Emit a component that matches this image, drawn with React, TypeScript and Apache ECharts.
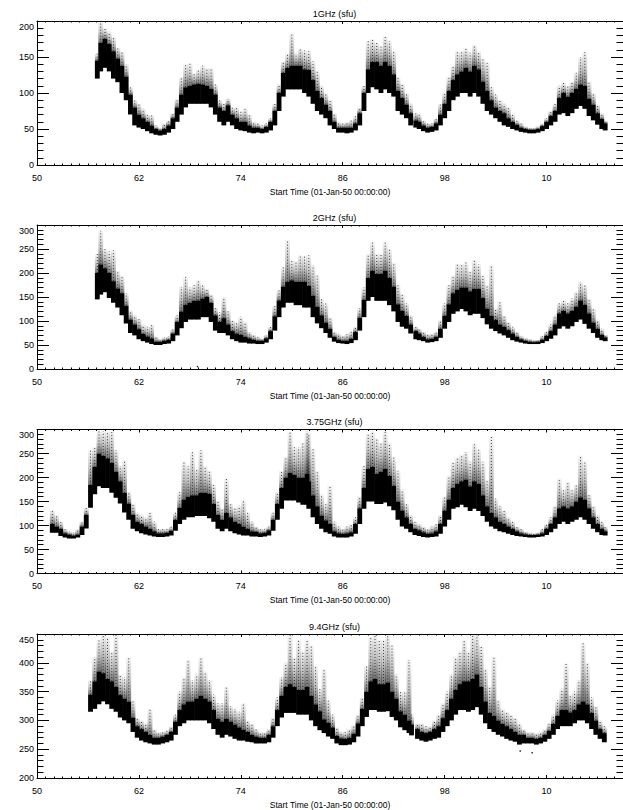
import React, { useEffect, useRef } from 'react';
import * as echarts from 'echarts';

const TITLES = ['1GHz (sfu)', '2GHz (sfu)', '3.75GHz (sfu)', '9.4GHz (sfu)'];
const X_TITLE = 'Start Time (01-Jan-50 00:00:00)';
const X_TICK_LABELS = ['50', '62', '74', '86', '98', '10'];
const BASE_YEAR = 1950;
const END_YEAR = 2019;
const Y_MIN = [0, 0, 0, 200];
const Y_MAX = [200, 300, 300, 450];

// rows: [year, dense-band low, dense-band high, sparse spike top]
const F1GHZ: number[][] = [
  [1957.1, 120, 145, 155], [1957.5, 130, 170, 198], [1958, 135, 175, 190], [1958.5, 130, 168, 185],
  [1959, 120, 158, 178], [1959.5, 115, 148, 163], [1960, 100, 138, 158], [1960.5, 90, 123, 140],
  [1961, 70, 98, 108], [1961.5, 55, 80, 90], [1962, 52, 70, 85], [1962.5, 50, 65, 78],
  [1963, 47, 60, 70], [1963.5, 44, 55, 69], [1964, 42, 50, 55], [1964.5, 41, 48, 52],
  [1965, 42, 50, 58], [1965.5, 45, 55, 62], [1966, 50, 65, 72], [1966.5, 60, 80, 92],
  [1967, 70, 98, 122], [1967.5, 80, 108, 140], [1968, 85, 110, 141], [1968.5, 85, 112, 128],
  [1969, 85, 113, 132], [1969.5, 85, 112, 138], [1970, 85, 110, 135], [1970.5, 80, 106, 135],
  [1971, 70, 98, 112], [1971.5, 60, 80, 90], [1972, 55, 75, 86], [1972.5, 60, 83, 92],
  [1973, 55, 70, 80], [1973.5, 50, 65, 80], [1974, 48, 60, 74], [1974.5, 47, 60, 78],
  [1975, 45, 55, 70], [1975.5, 44, 52, 60], [1976, 45, 52, 58], [1976.5, 44, 50, 55],
  [1977, 45, 53, 58], [1977.5, 48, 60, 65], [1978, 55, 75, 85], [1978.5, 75, 100, 112],
  [1979, 95, 128, 144], [1979.5, 105, 135, 155], [1980, 105, 138, 183], [1980.5, 105, 138, 155],
  [1981, 105, 138, 162], [1981.5, 100, 133, 159], [1982, 95, 132, 158], [1982.5, 85, 118, 144],
  [1983, 75, 103, 130], [1983.5, 70, 93, 110], [1984, 65, 84, 100], [1984.5, 55, 75, 90],
  [1985, 50, 60, 72], [1985.5, 45, 52, 60], [1986, 45, 52, 58], [1986.5, 44, 52, 60],
  [1987, 45, 52, 62], [1987.5, 48, 58, 68], [1988, 55, 72, 80], [1988.5, 75, 100, 110],
  [1989, 100, 133, 172], [1989.5, 108, 143, 175], [1990, 105, 143, 170], [1990.5, 100, 138, 165],
  [1991, 105, 143, 179], [1991.5, 100, 138, 172], [1992, 95, 126, 158], [1992.5, 75, 103, 122],
  [1993, 70, 93, 113], [1993.5, 65, 84, 100], [1994, 55, 72, 85], [1994.6, 52, 62, 72],
  [1995, 50, 60, 70], [1995.5, 47, 55, 62], [1996, 45, 52, 58], [1996.5, 46, 53, 58],
  [1997, 48, 58, 65], [1997.5, 55, 70, 85], [1998, 65, 85, 100], [1998.5, 75, 103, 122],
  [1999, 90, 118, 138], [1999.5, 95, 126, 158], [2000, 100, 130, 158], [2000.5, 100, 135, 162],
  [2001, 95, 130, 156], [2001.5, 100, 138, 167], [2002, 95, 133, 158], [2002.5, 85, 116, 148],
  [2003, 75, 103, 142], [2003.5, 70, 90, 108], [2004, 65, 80, 98], [2004.5, 60, 75, 90],
  [2005, 55, 72, 85], [2005.5, 53, 65, 80], [2006, 50, 60, 70], [2006.5, 48, 56, 62],
  [2007, 46, 52, 58], [2007.5, 45, 50, 54], [2008, 44, 49, 52], [2008.5, 44, 49, 52],
  [2009, 45, 50, 54], [2009.5, 47, 54, 58], [2010, 50, 60, 65], [2010.5, 55, 68, 75],
  [2011, 60, 75, 85], [2011.5, 70, 93, 110], [2012, 72, 100, 114], [2012.5, 68, 95, 110],
  [2013, 72, 100, 116], [2013.5, 78, 106, 128], [2014, 82, 112, 150], [2014.5, 78, 110, 157],
  [2015, 68, 92, 116], [2015.5, 62, 84, 100], [2016, 56, 72, 84], [2016.5, 50, 64, 72],
  [2016.9, 48, 58, 62],
];

const F2GHZ: number[][] = [
  [1957.1, 145, 200, 240], [1957.5, 155, 218, 288], [1958, 160, 210, 250], [1958.5, 148, 200, 245],
  [1959, 138, 183, 247], [1959.5, 128, 168, 205], [1960, 112, 158, 195], [1960.5, 95, 132, 158],
  [1961, 75, 103, 122], [1961.5, 70, 93, 112], [1962, 62, 83, 105], [1962.5, 58, 73, 92],
  [1963, 55, 68, 88], [1963.5, 52, 64, 92], [1964, 50, 57, 68], [1964.5, 50, 57, 63],
  [1965, 52, 59, 66], [1965.5, 53, 61, 68], [1966, 58, 74, 83], [1966.5, 70, 98, 112],
  [1967, 85, 120, 171], [1967.5, 98, 134, 192], [1968, 103, 138, 170], [1968.5, 103, 142, 175],
  [1969, 103, 143, 185], [1969.5, 108, 147, 175], [1970, 108, 150, 168], [1970.5, 98, 138, 155],
  [1971, 80, 112, 128], [1971.5, 75, 98, 118], [1972, 75, 106, 150], [1972.5, 70, 93, 122],
  [1973, 62, 79, 102], [1973.5, 58, 74, 98], [1974, 55, 71, 109], [1974.5, 55, 67, 98],
  [1975, 53, 64, 77], [1975.5, 53, 61, 71], [1976, 52, 59, 67], [1976.5, 52, 59, 64],
  [1977, 55, 64, 71], [1977.5, 62, 79, 88], [1978, 80, 110, 132], [1978.5, 108, 143, 165],
  [1979, 128, 172, 212], [1979.5, 138, 182, 269], [1980, 138, 185, 225], [1980.5, 133, 182, 225],
  [1981, 133, 182, 237], [1981.5, 128, 182, 235], [1982, 128, 173, 237], [1982.5, 108, 153, 216],
  [1983, 95, 130, 195], [1983.5, 85, 112, 147], [1984, 75, 97, 137], [1984.5, 65, 84, 108],
  [1985, 57, 67, 78], [1985.5, 54, 61, 74], [1986, 53, 59, 70], [1986.5, 52, 59, 73],
  [1987, 54, 63, 78], [1987.5, 60, 77, 88], [1988, 80, 107, 127], [1988.5, 108, 144, 170],
  [1989, 142, 190, 240], [1989.5, 150, 205, 264], [1990, 142, 198, 240], [1990.5, 142, 198, 240],
  [1991, 142, 205, 264], [1991.5, 133, 190, 250], [1992, 120, 172, 222], [1992.5, 98, 135, 175],
  [1993, 88, 121, 156], [1993.5, 84, 111, 137], [1994, 74, 93, 112], [1994.6, 62, 79, 88],
  [1995, 60, 74, 83], [1995.5, 58, 67, 78], [1996, 55, 62, 73], [1996.5, 56, 63, 73],
  [1997, 58, 67, 78], [1997.5, 65, 84, 102], [1998, 84, 111, 137], [1998.5, 98, 135, 175],
  [1999, 115, 158, 195], [1999.5, 120, 165, 219], [2000, 125, 170, 218], [2000.5, 120, 170, 222],
  [2001, 112, 162, 205], [2001.5, 115, 167, 228], [2002, 115, 167, 218], [2002.5, 106, 148, 195],
  [2003, 93, 126, 175], [2003.5, 84, 111, 216], [2004, 79, 102, 127], [2004.5, 74, 93, 140],
  [2005, 70, 88, 112], [2005.5, 65, 81, 98], [2006, 60, 74, 88], [2006.5, 57, 67, 78],
  [2007, 55, 62, 69], [2007.5, 53, 59, 65], [2008, 52, 57, 63], [2008.5, 52, 56, 61],
  [2009, 52, 57, 61], [2009.5, 54, 61, 69], [2010, 58, 69, 78], [2010.5, 63, 79, 93],
  [2011, 70, 93, 112], [2011.5, 84, 116, 137], [2012, 89, 121, 142], [2012.5, 84, 116, 137],
  [2013, 89, 121, 147], [2013.5, 98, 130, 161], [2014, 103, 143, 181], [2014.5, 94, 134, 175],
  [2015, 84, 116, 147], [2015.5, 75, 97, 127], [2016, 65, 84, 103], [2016.5, 60, 71, 84],
  [2016.9, 58, 66, 72],
];

const F3_75GHZ: number[][] = [
  [1951.8, 85, 103, 132], [1952.3, 85, 98, 122], [1952.8, 78, 93, 108], [1953.3, 75, 84, 93],
  [1953.8, 73, 81, 88], [1954.3, 73, 79, 86], [1954.8, 75, 81, 93], [1955.3, 80, 98, 108],
  [1955.8, 94, 122, 137], [1956.3, 137, 185, 257], [1956.8, 165, 222, 263], [1957.3, 182, 250, 296],
  [1957.8, 178, 245, 296], [1958.3, 178, 240, 296], [1958.8, 168, 230, 296], [1959.3, 158, 212, 257],
  [1959.8, 146, 192, 224], [1960.3, 127, 168, 236], [1960.8, 112, 146, 170], [1961.3, 93, 122, 146],
  [1961.8, 88, 108, 127], [1962.3, 84, 103, 122], [1962.8, 81, 98, 117], [1963.3, 79, 93, 127],
  [1963.8, 77, 88, 108], [1964.3, 76, 84, 93], [1964.8, 76, 84, 93], [1965.3, 77, 85, 93],
  [1965.8, 79, 89, 98], [1966.3, 89, 112, 127], [1966.8, 103, 137, 170], [1967.3, 112, 154, 233],
  [1967.8, 117, 160, 224], [1968.3, 117, 163, 253], [1968.8, 120, 163, 219], [1969.3, 120, 168, 257],
  [1969.8, 120, 168, 224], [1970.3, 115, 166, 214], [1970.8, 108, 145, 185], [1971.3, 93, 122, 151],
  [1971.8, 88, 112, 137], [1972.3, 93, 126, 198], [1972.8, 88, 117, 146], [1973.3, 84, 108, 137],
  [1973.8, 81, 103, 141], [1974.3, 79, 98, 153], [1974.8, 79, 93, 127], [1975.3, 77, 88, 108],
  [1975.8, 77, 87, 98], [1976.3, 76, 84, 93], [1976.8, 77, 85, 93], [1977.3, 79, 90, 98],
  [1977.8, 89, 112, 127], [1978.3, 112, 145, 170], [1978.8, 135, 178, 214], [1979.3, 152, 200, 243],
  [1979.8, 152, 210, 295], [1980.3, 152, 205, 263], [1980.8, 148, 200, 263], [1981.3, 143, 200, 272],
  [1981.8, 143, 208, 296], [1982, 135, 192, 292], [1982.5, 117, 163, 260], [1983, 103, 140, 214],
  [1983.5, 93, 121, 165], [1984, 86, 111, 146], [1984.5, 83, 103, 184], [1985, 77, 88, 108],
  [1985.5, 75, 84, 98], [1986, 75, 83, 93], [1986.5, 75, 84, 98], [1987, 77, 86, 103],
  [1987.5, 83, 103, 117], [1988, 103, 136, 161], [1988.5, 135, 178, 224], [1989, 150, 218, 292],
  [1989.5, 150, 222, 296], [1990, 145, 208, 282], [1990.5, 145, 212, 272], [1991, 148, 218, 296],
  [1991.5, 140, 203, 272], [1992, 132, 183, 243], [1992.5, 112, 150, 214], [1993, 98, 131, 175],
  [1993.5, 93, 117, 146], [1994, 86, 103, 122], [1994.5, 80, 93, 108], [1995, 78, 90, 103],
  [1995.5, 76, 86, 98], [1996, 75, 83, 93], [1996.5, 76, 84, 98], [1997, 77, 88, 103],
  [1997.5, 83, 103, 122], [1998, 98, 131, 161], [1998.5, 112, 154, 204], [1999, 135, 178, 233],
  [1999.5, 138, 187, 243], [2000, 143, 192, 248], [2000.5, 138, 196, 253], [2001, 130, 182, 233],
  [2001.5, 135, 192, 271], [2002, 130, 187, 258], [2002.5, 120, 163, 233], [2003, 108, 140, 195],
  [2003.5, 98, 126, 285], [2004, 93, 117, 156], [2004.5, 88, 108, 141], [2005, 86, 103, 132],
  [2005.5, 83, 98, 117], [2006, 80, 93, 108], [2006.5, 78, 88, 98], [2007, 77, 84, 93],
  [2007.5, 76, 82, 88], [2008, 75, 80, 86], [2008.5, 75, 80, 84], [2009, 76, 81, 86],
  [2009.5, 77, 84, 93], [2010, 80, 93, 103], [2010.5, 86, 103, 117], [2011, 93, 117, 141],
  [2011.5, 103, 136, 198], [2012, 108, 140, 175], [2012.5, 103, 136, 190], [2013, 108, 140, 175],
  [2013.5, 112, 150, 185], [2014, 117, 159, 246], [2014.5, 112, 154, 234], [2015, 103, 136, 165],
  [2015.5, 93, 117, 141], [2016, 86, 103, 122], [2016.5, 80, 93, 108], [2016.9, 79, 88, 98],
];

const F9_4GHZ: number[][] = [
  [1956.3, 315, 345, 370], [1956.8, 320, 368, 410], [1957.3, 328, 385, 440], [1957.8, 333, 382, 449],
  [1958.3, 328, 372, 445], [1958.8, 320, 368, 420], [1959.3, 315, 358, 448], [1959.8, 305, 344, 380],
  [1960.3, 300, 338, 375], [1960.8, 295, 333, 410], [1961.3, 280, 305, 335], [1961.8, 270, 290, 305],
  [1962.3, 265, 285, 300], [1962.8, 262, 280, 295], [1963.3, 260, 275, 320], [1963.8, 258, 270, 285],
  [1964.3, 258, 270, 280], [1964.8, 260, 272, 280], [1965.3, 262, 275, 282], [1965.8, 265, 280, 290],
  [1966.3, 275, 298, 310], [1966.8, 290, 318, 350], [1967.3, 295, 328, 375], [1967.8, 300, 333, 405],
  [1968.3, 300, 333, 370], [1968.8, 300, 338, 380], [1969.3, 300, 343, 410], [1969.8, 300, 338, 385],
  [1970.3, 295, 333, 370], [1970.8, 285, 318, 345], [1971.3, 275, 303, 330], [1971.8, 270, 298, 330],
  [1972.3, 275, 303, 358], [1972.8, 272, 298, 325], [1973.3, 268, 293, 320], [1973.8, 265, 288, 315],
  [1974.3, 265, 284, 330], [1974.8, 263, 280, 300], [1975.3, 262, 275, 295], [1975.8, 260, 272, 285],
  [1976.3, 260, 270, 280], [1976.8, 260, 270, 280], [1977.3, 262, 275, 285], [1977.8, 270, 290, 305],
  [1978.3, 290, 318, 340], [1978.8, 305, 343, 375], [1979.3, 313, 358, 400], [1979.8, 313, 363, 448],
  [1980.3, 313, 358, 410], [1980.8, 310, 353, 440], [1981.3, 310, 353, 420], [1981.8, 310, 358, 440],
  [1982.3, 300, 343, 430], [1982.8, 290, 328, 395], [1983.3, 283, 316, 355], [1983.8, 278, 302, 390],
  [1984.3, 272, 296, 335], [1984.8, 268, 288, 310], [1985.3, 260, 273, 288], [1985.8, 257, 269, 280],
  [1986.3, 257, 268, 280], [1986.8, 258, 270, 285], [1987.3, 262, 277, 292], [1987.8, 272, 295, 310],
  [1988.3, 290, 320, 340], [1988.8, 306, 350, 395], [1989.3, 318, 368, 445], [1989.8, 318, 372, 449],
  [1990.3, 315, 363, 440], [1990.8, 315, 363, 440], [1991.3, 316, 366, 449], [1991.8, 306, 350, 430],
  [1992.3, 300, 338, 380], [1992.8, 288, 316, 350], [1993.3, 283, 310, 350], [1993.8, 278, 300, 405],
  [1994.1, 274, 293, 310], [1994.8, 268, 285, 295], [1995.3, 265, 280, 295], [1995.8, 263, 278, 290],
  [1996.3, 265, 280, 290], [1996.8, 268, 285, 300], [1997.3, 270, 290, 310], [1997.8, 280, 304, 330],
  [1998.3, 290, 318, 350], [1998.8, 300, 338, 380], [1999.3, 310, 353, 410], [1999.8, 318, 363, 420],
  [2000.3, 318, 368, 440], [2000.8, 315, 368, 420], [2001.3, 318, 372, 449], [2001.8, 323, 380, 449],
  [2002.3, 310, 358, 430], [2002.8, 295, 333, 390], [2003.3, 285, 313, 360], [2003.8, 280, 308, 410],
  [2004.3, 275, 300, 335], [2004.8, 272, 294, 320], [2005.3, 268, 290, 315], [2005.8, 265, 285, 310],
  [2006.3, 263, 280, 305], [2006.8, 258, 275, 294], [2007.3, 260, 275, 285], [2007.8, 260, 270, 280],
  [2008.3, 260, 270, 280], [2008.8, 258, 268, 278], [2009.3, 260, 270, 280], [2009.8, 263, 275, 285],
  [2010.3, 268, 282, 295], [2010.8, 275, 294, 310], [2011.3, 285, 308, 335], [2011.8, 290, 318, 355],
  [2012.3, 290, 318, 399], [2012.8, 290, 314, 345], [2013.3, 295, 318, 350], [2013.8, 300, 328, 370],
  [2014.3, 300, 333, 435], [2014.8, 295, 328, 400], [2015.3, 285, 313, 340], [2015.8, 275, 300, 325],
  [2016.3, 268, 285, 300], [2016.8, 262, 278, 290],
];

// isolated stray points [year, value]
const OUT_1GHZ: number[][] = [];
const OUT_2GHZ: number[][] = [[1968.9, 5]];
const OUT_3_75GHZ: number[][] = [];
const OUT_9_4GHZ: number[][] = [[2006.9, 247], [2008.3, 244]];

const BANDS = [F1GHZ, F2GHZ, F3_75GHZ, F9_4GHZ];
const OUTLIERS = [OUT_1GHZ, OUT_2GHZ, OUT_3_75GHZ, OUT_9_4GHZ];

const FONT = "'Liberation Sans', Arial, sans-serif";
const GRID_TOPS = [21, 225, 429.5, 634];
const GRID_H = 144;
const GRID_LEFT = 37;
const GRID_W = 595;

function buildOption() {
  const grids: any[] = [];
  const xAxes: any[] = [];
  const yAxes: any[] = [];
  const series: any[] = [];
  const graphics: any[] = [];
  const black = '#000';

  for (let i = 0; i < 4; i++) {
    grids.push({ left: GRID_LEFT, top: GRID_TOPS[i], width: GRID_W, height: GRID_H, containLabel: false });
    const xBase = {
      type: 'value', gridIndex: i, min: 0, max: END_YEAR - BASE_YEAR, interval: 12,
      axisLine: { show: true, onZero: false, lineStyle: { color: black, width: 1 } },
      axisTick: { show: true, inside: true, length: 3, lineStyle: { color: black, width: 1 } },
      minorTick: { show: true, splitNumber: 12, length: 1.5, lineStyle: { color: black, width: 1 } },
      splitLine: { show: false }, minorSplitLine: { show: false },
    };
    xAxes.push({
      ...xBase, position: 'bottom',
      axisLabel: {
        show: true, margin: 8, color: black, fontSize: 9, fontFamily: FONT, showMaxLabel: false,
        formatter: (v: number) => (v % 12 === 0 && X_TICK_LABELS[v / 12] !== undefined ? X_TICK_LABELS[v / 12] : ''),
      },
      name: X_TITLE, nameLocation: 'middle', nameGap: 22,
      nameTextStyle: { color: black, fontSize: 8.5, fontFamily: FONT },
    });
    xAxes.push({ ...xBase, position: 'top', axisLabel: { show: false } });

    const yBase = {
      type: 'value', gridIndex: i, min: Y_MIN[i], max: Y_MAX[i], interval: 50,
      axisLine: { show: true, onZero: false, lineStyle: { color: black, width: 1 } },
      axisTick: { show: true, inside: true, length: 12, lineStyle: { color: black, width: 1 } },
      minorTick: { show: true, splitNumber: 5, length: 6.5, lineStyle: { color: black, width: 1 } },
      splitLine: { show: false }, minorSplitLine: { show: false },
    };
    const yMax = Y_MAX[i];
    yAxes.push({
      ...yBase, position: 'left',
      axisLabel: {
        show: true, margin: 3, color: black, fontSize: 9, fontFamily: FONT,
        formatter: (v: number) => (v === yMax ? `{top|${v}}` : `${v}`),
        rich: { top: { padding: [11, 0, 0, 0], color: black, fontSize: 9, fontFamily: FONT } },
      },
    });
    yAxes.push({ ...yBase, position: 'right', axisLabel: { show: false } });

    series.push({
      type: 'custom', xAxisIndex: 2 * i, yAxisIndex: 2 * i, coordinateSystem: 'cartesian2d',
      data: BANDS[i].map((r) => [r[0] - BASE_YEAR, r[1], r[2], r[3]]),
      encode: { x: 0, y: [1, 2, 3] },
      clip: true,
      renderItem: (params: any, api: any) => {
        const x = api.value(0);
        const lo = api.coord([x, api.value(1)]);
        const hi = api.coord([x, api.value(2)]);
        const pk = api.coord([x, api.value(3)]);
        const w = api.size([0.5, 0])[0] + 0.6;
        const hazeH = Math.max(0, hi[1] - pk[1]);
        return {
          type: 'group',
          children: [
            {
              type: 'rect',
              shape: { x: lo[0] - w / 2, y: pk[1], width: w, height: hazeH },
              style: {
                fill: {
                  type: 'linear', x: 0, y: 1, x2: 0, y2: 0,
                  colorStops: [
                    { offset: 0, color: 'rgba(0,0,0,0.55)' },
                    { offset: 0.5, color: 'rgba(0,0,0,0.22)' },
                    { offset: 1, color: 'rgba(0,0,0,0.04)' },
                  ],
                },
              },
            },
            { type: 'line', shape: { x1: hi[0], y1: hi[1], x2: pk[0], y2: pk[1] }, style: { stroke: 'rgba(0,0,0,0.75)', lineWidth: 1, lineDash: [1, 2] } },
            { type: 'rect', shape: { x: lo[0] - w / 2, y: hi[1], width: w, height: Math.max(1, lo[1] - hi[1]) }, style: { fill: black } },
          ],
        };
      },
    });
    series.push({
      type: 'scatter', xAxisIndex: 2 * i, yAxisIndex: 2 * i,
      data: OUTLIERS[i].map((p) => [p[0] - BASE_YEAR, p[1]]),
      symbol: 'rect', symbolSize: 1.5, itemStyle: { color: black },
    });

    graphics.push({
      type: 'text', x: GRID_LEFT + GRID_W / 2, y: GRID_TOPS[i] - 7.5,
      style: { text: TITLES[i], align: 'center', verticalAlign: 'middle', fontSize: 9, fontFamily: FONT, fill: black },
    });
  }

  return {
    animation: false,
    backgroundColor: '#fff',
    grid: grids,
    xAxis: xAxes,
    yAxis: yAxes,
    series,
    graphic: graphics,
  };
}

export default function App() {
  const ref = useRef<HTMLDivElement>(null);
  useEffect(() => {
    if (!ref.current) return;
    const chart = echarts.init(ref.current, undefined, { renderer: 'svg' });
    chart.setOption(buildOption());
    return () => chart.dispose();
  }, []);
  return <div ref={ref} style={{ position: 'absolute', left: 0, top: 0, width: 623, height: 810, background: '#fff' }} />;
}
